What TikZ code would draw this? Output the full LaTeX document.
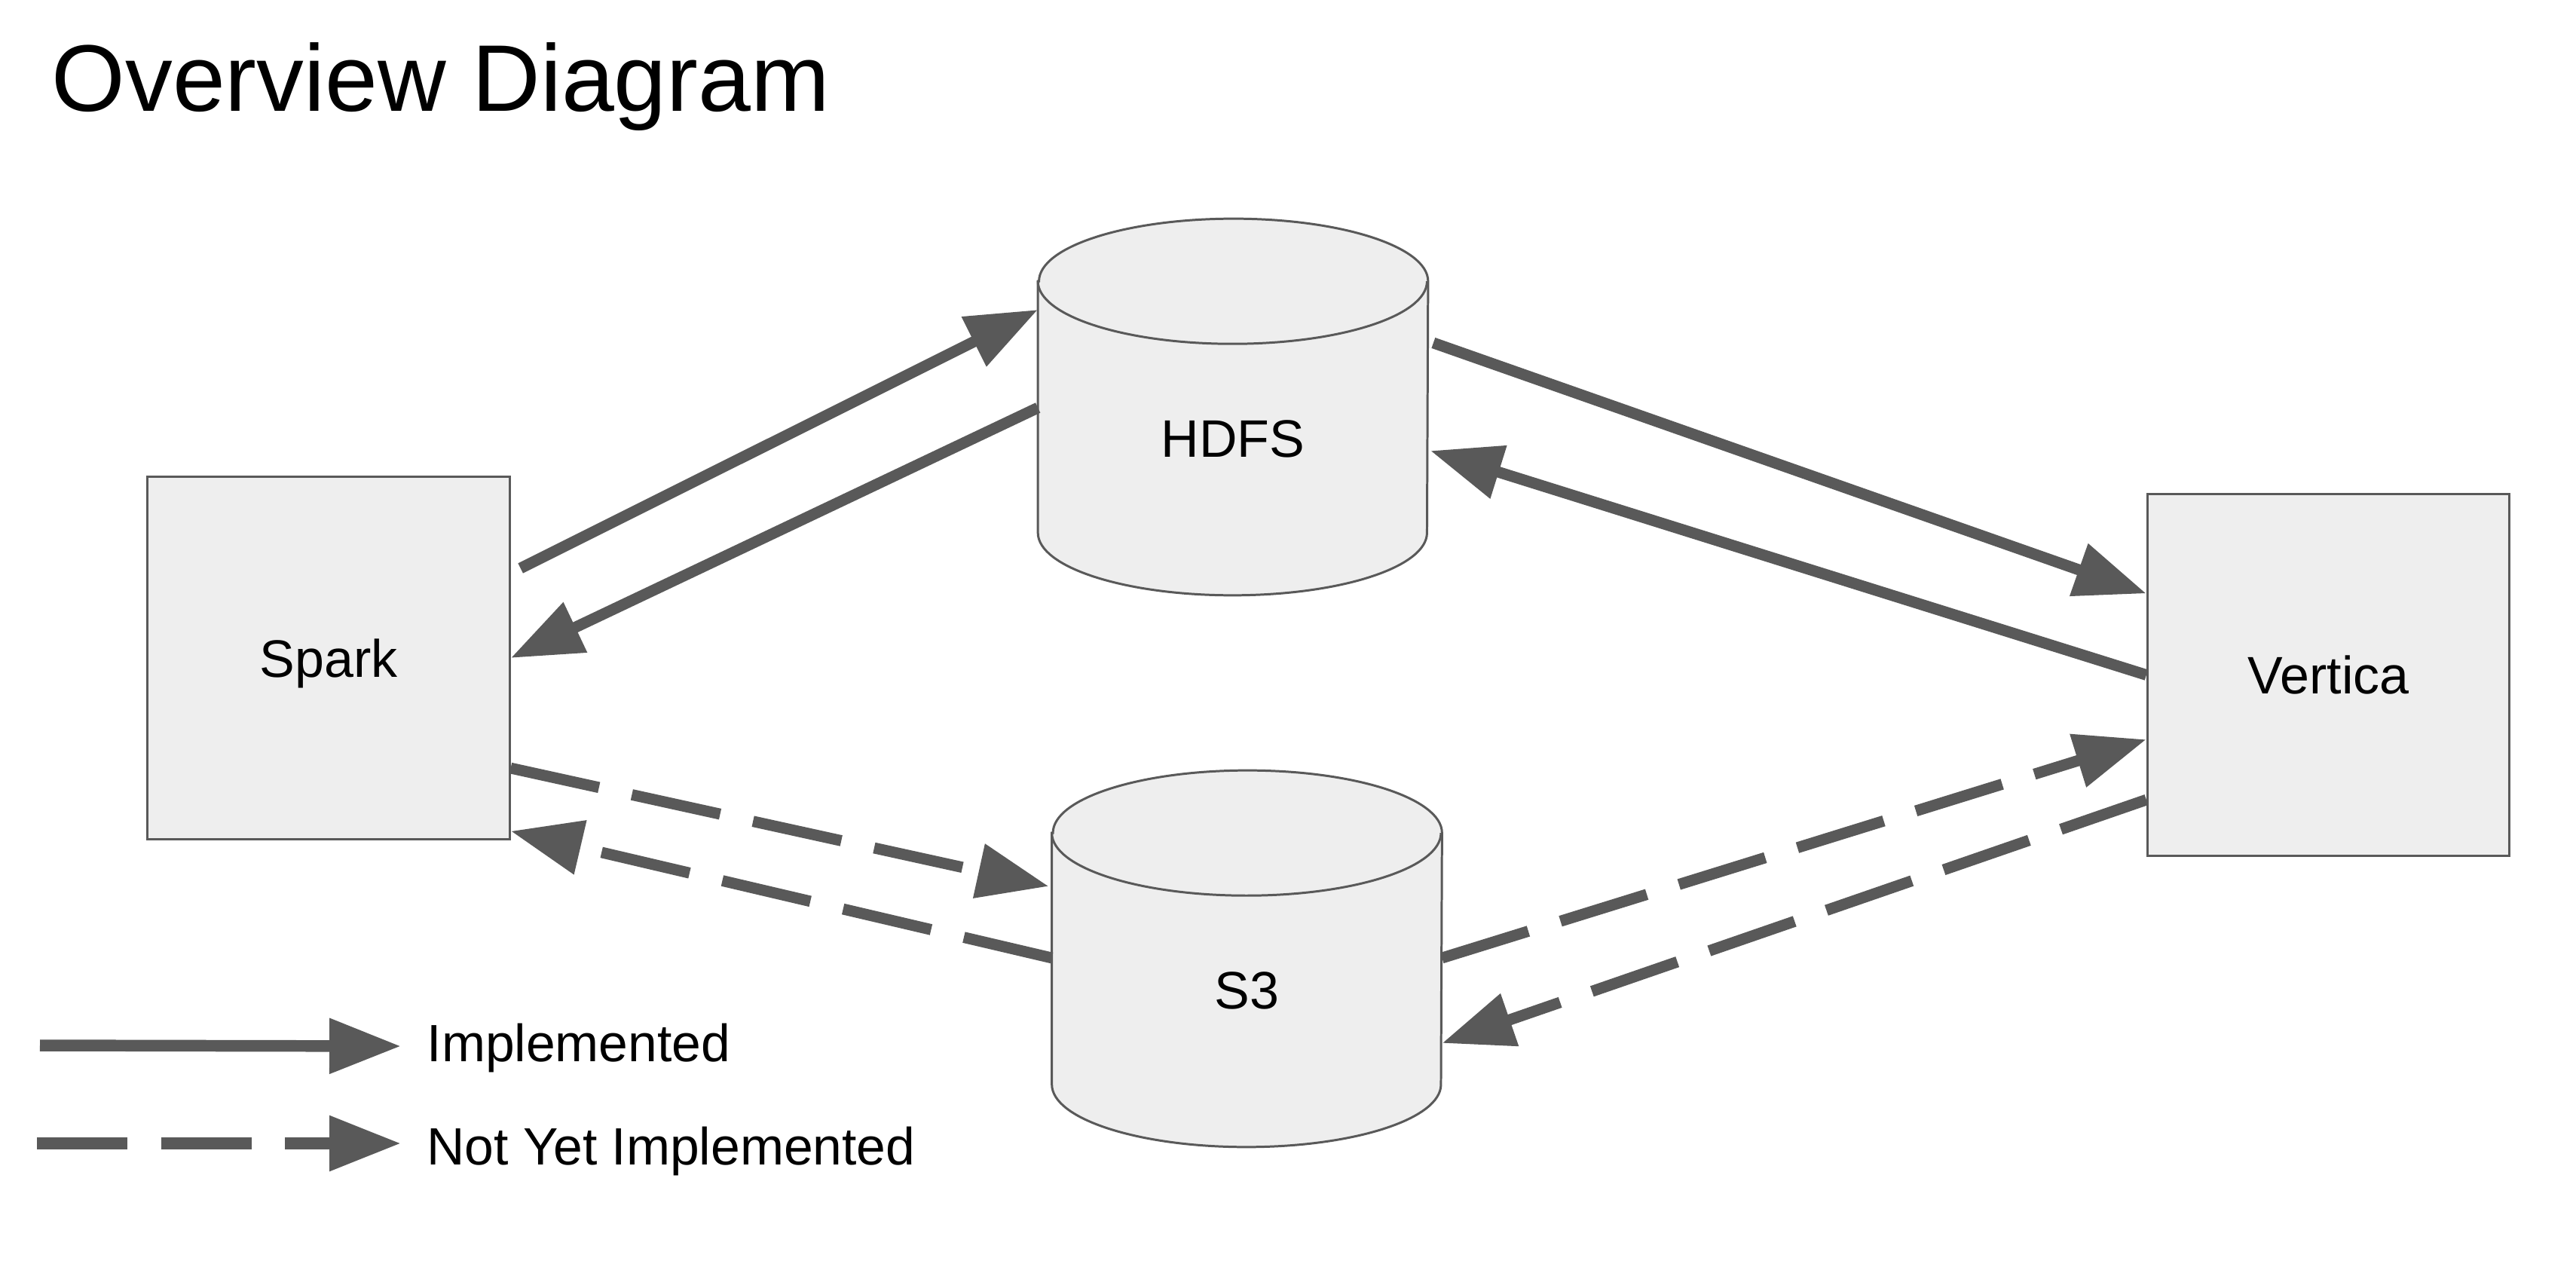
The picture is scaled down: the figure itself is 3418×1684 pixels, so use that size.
\documentclass[tikz,border=0pt]{standalone}
\usepackage{fontspec}
\setmainfont{Liberation Sans}
\usetikzlibrary{arrows.meta,backgrounds}
\definecolor{strokegray}{HTML}{595959}
\definecolor{boxfill}{HTML}{EEEEEE}
\begin{document}
\begin{tikzpicture}[x=0.01cm,y=-0.01cm,
  lbl/.style={font=\fontsize{19.9pt}{24pt}\selectfont, text height=14.25pt, text depth=0pt, inner sep=0pt},
  legtext/.style={font=\fontsize{19.8pt}{24pt}\selectfont, inner sep=0pt, anchor=base west},
  boxnode/.style={lbl, draw=strokegray, fill=boxfill, line width=0.85pt, minimum width=4.8cm, minimum height=4.8cm},
  cylnode/.style={lbl, minimum width=5.16cm, minimum height=4.15cm},
  cyl/.style={draw=strokegray, fill=boxfill, line width=0.85pt},
  conn/.style={draw=strokegray, line width=4.2pt, -{Triangle[length=27pt,width=19.9pt]}},
  todo/.style={conn, dash pattern=on 34.1pt off 12.7pt},
  legline/.style={line width=4.4pt},
]
\useasboundingbox (0,0) rectangle (3418,1684);
\begin{pgfonlayer}{background}
  \fill[white] (0,0) rectangle (3418,1684);
\end{pgfonlayer}

\node[font=\fontsize{35.7pt}{42pt}\selectfont, inner sep=0pt, anchor=base west] (title) at (68,147) {Overview Diagram};

\node[boxnode] (spark) at (436,873) {Spark};
\node[boxnode] (vertica) at (3089.5,895.5) {Vertica};
\node[cylnode] (hdfs) at (1636,581.5) {HDFS};
\node[cylnode] (s3) at (1654.5,1313.5) {S3};

\begin{pgfonlayer}{background}
  \foreach \c in {hdfs,s3}{
    \path[cyl] (\c.north west) -- ([yshift=0.83cm]\c.south west)
      arc[start angle=180,end angle=360,x radius=2.58cm,y radius=0.83cm]
      -- (\c.north east)
      arc[start angle=0,end angle=180,x radius=2.58cm,y radius=0.83cm] -- cycle;
    \draw[cyl, fill=none] (\c.north west)
      arc[start angle=180,end angle=360,x radius=2.58cm,y radius=0.83cm];
  }
\end{pgfonlayer}

% implemented
\draw[conn] ([xshift=0.13cm,yshift=1.19cm]spark.east) -- ([yshift=1.705cm]hdfs.west);
\draw[conn] ([yshift=0.405cm]hdfs.west) -- (spark.east);
\draw[conn] ([xshift=0.07cm,yshift=1.265cm]hdfs.east) -- ([yshift=1.08cm]vertica.west);
\draw[conn] (vertica.west) -- ([xshift=0.03cm,yshift=-0.165cm]hdfs.east);
% not yet implemented
\draw[todo] ([yshift=-1.46cm]spark.east) -- ([xshift=-0.04cm,yshift=1.375cm]s3.west);
\draw[todo] ([yshift=0.425cm]s3.west) -- ([yshift=-2.295cm]spark.east);
\draw[todo] ([yshift=0.425cm]s3.east) -- ([yshift=-0.855cm]vertica.west);
\draw[todo] ([yshift=-1.655cm]vertica.west) -- ([yshift=-0.705cm]s3.east);

% legend
\coordinate (la) at (53,1387);
\coordinate (lb) at (532,1388);
\coordinate (lc) at (49,1517);
\coordinate (ld) at (532,1517);
\draw[conn, legline] (la) -- (lb);
\draw[todo, legline] (lc) -- (ld);
\node[legtext] (limpl) at (566,1408) {Implemented};
\node[legtext] (lnot) at (566,1545) {Not Yet Implemented};
\end{tikzpicture}
\end{document}
